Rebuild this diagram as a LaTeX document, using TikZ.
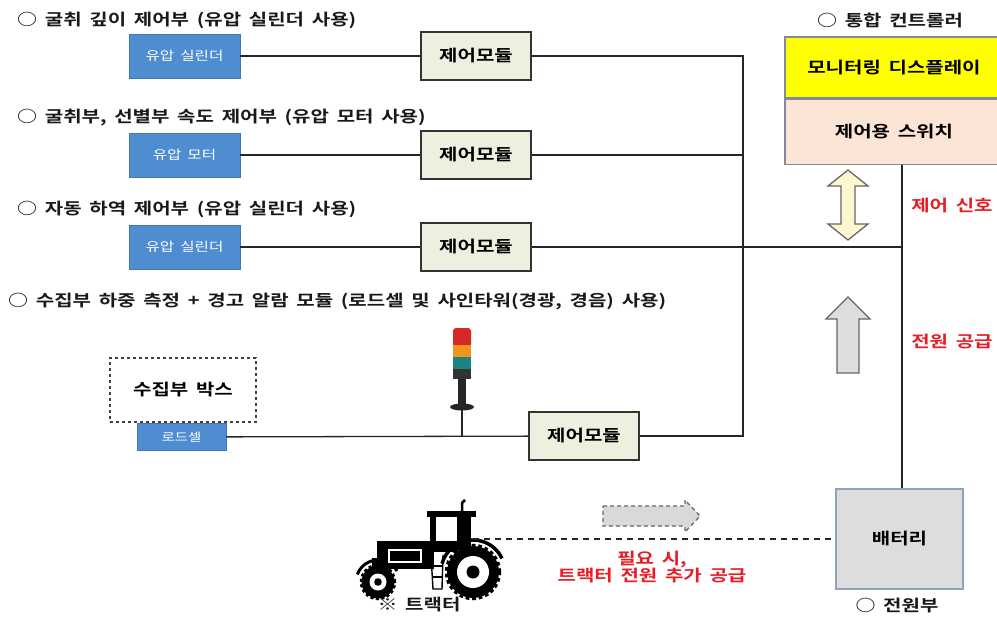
\documentclass[tikz,border=0pt]{standalone}
\usepackage{fontspec}
\setmainfont{Noto Sans CJK KR}[FakeStretch=1.25, WordSpace=1.7, BoldFont={* Bold}]
\usetikzlibrary{calc}

\definecolor{unitblue}{RGB}{79,141,208}
\definecolor{unitblueline}{RGB}{66,118,178}
\definecolor{modgreen}{RGB}{235,241,222}
\definecolor{dispyellow}{RGB}{255,255,0}
\definecolor{switchpeach}{RGB}{252,229,214}
\definecolor{ctlline}{RGB}{128,138,152}
\definecolor{batfill}{RGB}{221,221,221}
\definecolor{batline}{RGB}{142,164,190}
\definecolor{sigred}{RGB}{232,30,38}
\definecolor{arrowcream}{RGB}{253,246,206}
\definecolor{twred}{RGB}{214,40,36}
\definecolor{tworange}{RGB}{240,150,30}
\definecolor{twteal}{RGB}{30,130,130}

\tikzset{
  hdr/.style={anchor=west, inner sep=0pt, font=\fontsize{16}{19}\selectfont\bfseries, text=black!90},
  unitbox/.style={draw=unitblueline, fill=unitblue, line width=0.8pt, text=white,
    minimum width=111pt, minimum height=44pt, inner sep=0pt,
    font=\fontsize{12.5}{14}\selectfont},
  modbox/.style={draw=black!80, fill=modgreen, line width=1.8pt,
    minimum width=110pt, minimum height=48pt, inner sep=0pt,
    font=\fontsize{16}{19}\selectfont\bfseries},
  ctlbox/.style={draw=ctlline, line width=1.4pt, minimum width=218pt, inner sep=0pt,
    font=\fontsize{16}{19}\selectfont\bfseries},
  wire/.style={draw=black!85, line width=1.3pt},
  redlbl/.style={text=sigred, inner sep=0pt, font=\fontsize{16}{19}\selectfont\bfseries, align=center},
  plain/.style={inner sep=0pt, font=\fontsize{16}{19}\selectfont\bfseries, text=black!90},
}

\begin{document}
\begin{tikzpicture}[x=1pt, y=-1pt]
\useasboundingbox (0,0) rectangle (997,618);
\fill[white] (0,0) rectangle (997,618);

% section headings
\node[hdr] (h1) at (17,20)  {○ 굴취 깊이 제어부 (유압 실린더 사용)};
\node[hdr] (h2) at (17,117) {○ 굴취부, 선별부 속도 제어부 (유압 모터 사용)};
\node[hdr] (h3) at (17,209) {○ 자동 하역 제어부 (유압 실린더 사용)};
\node[hdr] (h4) at (8,302)  {○ 수집부 하중 측정 + 경고 알람 모듈 (로드셀 및 사인타워(경광, 경음) 사용)};

% actuators
\node[unitbox] (u1) at (184.5,56)  {유압 실린더};
\node[unitbox] (u2) at (184.5,155) {유압 모터};
\node[unitbox] (u3) at (184.5,247) {유압 실린더};

% control modules
\node[modbox] (m1) at (476,56)  {제어모듈};
\node[modbox] (m2) at (476,155) {제어모듈};
\node[modbox] (m3) at (476,247) {제어모듈};
\node[modbox] (m4) at (584,436) {제어모듈};

% collector box and load cell
\node[draw=black!75, dashed, line width=1.5pt, minimum width=146pt, minimum height=64pt,
      inner sep=0pt, font=\fontsize{16}{19}\selectfont\bfseries] (box) at (183,390) {수집부 박스};
\node[unitbox, minimum width=89pt, minimum height=27pt, font=\fontsize{11.5}{13}\selectfont] (lc) at (181.5,437) {로드셀};

% integrated controller
\node[ctlbox, fill=dispyellow, minimum height=61pt] (disp) at (894,67.5) {모니터링 디스플레이};
\node[ctlbox, fill=switchpeach, minimum height=65pt, anchor=north] (sw) at (disp.south) {제어용 스위치};
\node[plain] (hc) at (890,20) {○ 통합 컨트롤러};

% battery
\node[draw=batline, fill=batfill, line width=1.5pt, minimum width=127pt, minimum height=100pt,
      inner sep=0pt, font=\fontsize{16}{19}\selectfont\bfseries] (bat) at (899.5,539) {배터리};
\node[plain] (hb) at (897,606) {○ 전원부};

% bus and trunk coordinates
\coordinate (busTop) at (743,56);
\coordinate (trunk) at (902,300);

% wiring
\draw[wire] (u1) -- (m1);
\draw[wire] (u2) -- (m2);
\draw[wire] (u3) -- (m3);
\draw[wire] (lc) -- (m4);
\draw[wire] (m1) -- (busTop) |- (m4);
\draw[wire] (m2.east) -- (m2.east -| busTop);
\draw[wire] (m3.east) -- (m3.east -| trunk);
\draw[wire] (sw.south -| trunk) -- (bat.north -| trunk);

% signal tower
\coordinate (towerfoot) at (462,410);
\fill[twred, rounded corners=3pt] (453,347) -- (453,328) -- (471,328) -- (471,347) -- cycle;
\fill[tworange] (453,345) rectangle (471,357);
\fill[twteal] (453,357) rectangle (471,369);
\fill[black!80] (453,369) rectangle (471,379);
\fill[black!85] (458,379) rectangle (466,405);
\fill[black!85] (462,407) ellipse (12pt and 3.5pt);
\draw[wire] (towerfoot) -- (towerfoot |- lc);

% signal and power arrows
\draw[black!60, line width=1.3pt, fill=arrowcream, line join=miter]
  (848,170) -- (828,186) -- (841,186) -- (841,224) -- (828,224) -- (848,240)
  -- (868,224) -- (855,224) -- (855,186) -- (868,186) -- cycle;
\draw[black!60, line width=1.3pt, fill=batfill, line join=miter]
  (848,297) -- (826,319) -- (837,319) -- (837,373) -- (859,373) -- (859,319) -- (870,319) -- cycle;
\node[redlbl] (lsig) at (952,206) {제어 신호};
\node[redlbl] (lpow) at (952,342) {전원 공급};

% tractor
\begin{scope}[black]
  % rear wheel
  \draw[line width=4.5pt, dash pattern=on 3.6pt off 2.8pt] (473,572) circle (26pt);
  \fill (473,572) circle (26pt);
  \fill[white] (473,572) circle (16pt);
  \fill (473,572) circle (6.5pt);
  % front wheel
  \draw[line width=3.5pt, dash pattern=on 3pt off 2.4pt] (378,582) circle (16.5pt);
  \fill (378,582) circle (16.5pt);
  \fill[white] (378,582) circle (8.5pt);
  \fill (378,582) circle (3.8pt);
  % fenders
  \draw[line width=3.5pt] (473,572) ++(195:32) arc (195:335:32);
  \draw[line width=3pt] (378,582) ++(200:22) arc (200:330:22);
  % hood
  \fill (377,541) rectangle (434,569);
  \draw[white, line width=1.2pt] (389,550) rectangle (421,562);
  \fill (372,558) rectangle (378,570);
  % cab
  \fill (427,511) rectangle (476,517);
  \fill (430,517) rectangle (436,548);
  \fill (457,517) rectangle (471,550);
  \fill (434,541) rectangle (458,552);
  % exhaust
  \draw[line width=2.5pt] (462,513) -- (462,503) -- (465,500);
  % step
  \draw[line width=1.4pt] (431,555) -- (433,589) -- (442,589) -- (443,555);
  \draw[line width=1.2pt] (432,566) -- (443,566) (432,577) -- (443,577);
\end{scope}
\coordinate (hitch) at (473,539);
\node[plain] (ht) at (419,605) {※ 트랙터};

% optional tractor power feed
\draw[wire, dashed, dash pattern=on 6pt off 5pt] (hitch) -- (bat);
\draw[black!60, line width=1.3pt, dashed, dash pattern=on 4pt off 3pt, fill=gray!30]
  (603,506) -- (685,506) -- (685,500) -- (700,516) -- (685,532) -- (685,526) -- (603,526) -- cycle;
\node[redlbl] (lnote) at (652,567) {필요 시,\\[-2pt]트랙터 전원 추가 공급};
\end{tikzpicture}
\end{document}
